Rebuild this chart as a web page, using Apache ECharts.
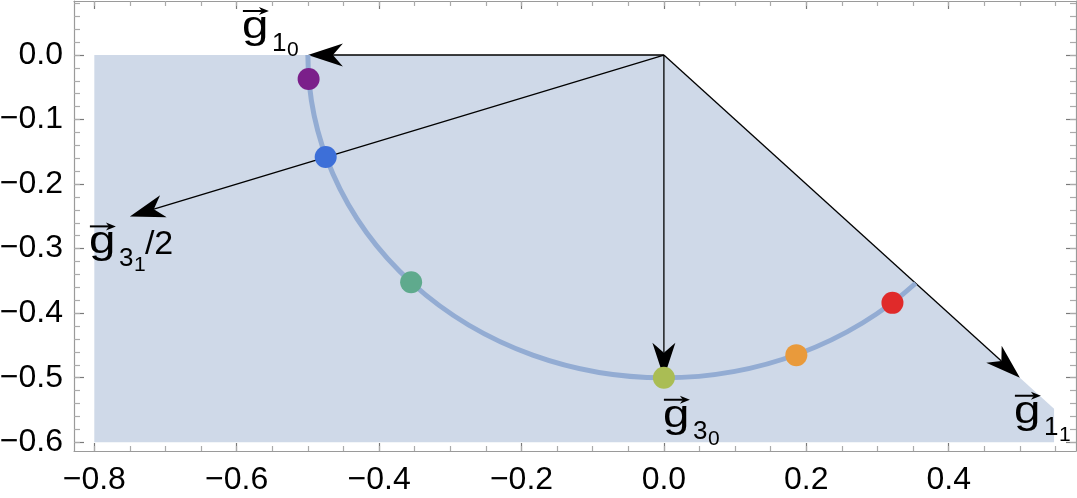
<!DOCTYPE html>
<html>
<head>
<meta charset="utf-8">
<title>g vectors</title>
<script src="https://cdn.jsdelivr.net/npm/echarts@6/dist/echarts.min.js"></script>
<style>
  html, body { margin: 0; padding: 0; background: #fff; }
  #chart { width: 1077px; height: 498px; }
</style>
</head>
<body>
<div id="chart"></div>
<script>
// axis ranges and tick labels
var xRange = [-0.8285, 0.5788];
var yRange = [-0.6135, 0.0837];
var xMajor = [-0.8, -0.6, -0.4, -0.2, 0.0, 0.2, 0.4];
var yMajor = [-0.6, -0.5, -0.4, -0.3, -0.2, -0.1, 0.0];
var xMinor = [-0.8, -0.75, -0.7, -0.65, -0.6, -0.55, -0.5, -0.45, -0.4, -0.35, -0.3, -0.25, -0.2, -0.15,
  -0.1, -0.05, 0, 0.05, 0.1, 0.15, 0.2, 0.25, 0.3, 0.35, 0.4, 0.45, 0.5, 0.55];
var yMinor = [-0.6, -0.58, -0.56, -0.54, -0.52, -0.5, -0.48, -0.46, -0.44, -0.42, -0.4, -0.38, -0.36, -0.34,
  -0.32, -0.3, -0.28, -0.26, -0.24, -0.22, -0.2, -0.18, -0.16, -0.14, -0.12, -0.1, -0.08, -0.06, -0.04,
  -0.02, 0, 0.02, 0.04, 0.06, 0.08];

// shaded region (corners)
var regionX = [-0.8, 0, 0.548, 0.548, -0.8];
var regionY = [0, 0, -0.548, -0.6, -0.6];

// circle arc, radius 0.5
var arcRadius = 0.5;
var arcStart = [-0.5, 0];
var arcEnd = [0.3536, -0.3536];

// points on the arc
var dotX = [-0.499, -0.475, -0.355, 0.0, 0.186, 0.321];
var dotY = [-0.037, -0.158, -0.352, -0.5, -0.465, -0.384];
var dotColors = ['#7b1f8a', '#3d6fd8', '#5faa8d', '#aabd54', '#e99a3b', '#e02a2a'];

// vectors drawn from the origin
var arrowEndX = [-0.5, -0.75, 0.0, 0.5];
var arrowEndY = [0.0, -0.25, -0.5, -0.5];
var labelSub = ['1', '3', '3', '1'];
var labelSubSub = ['0', '1', '0', '1'];
var labelTail = ['', '/2', '', ''];

// where each label's g sits relative to the arrow tip (px: left, baseline)
var labelOffset = [[-66, -15], [-41, 39], [-1, 51], [-6, 47]];

var FONT = '"Liberation Sans", Arial, sans-serif';
var frameColor = '#9a9a9a';

function fmt(v) {
  return (v < -1e-9 ? '\u2212' : '') + Math.abs(v).toFixed(1);
}

function xAx(pos, ticks, len, color, line, labels) {
  return {
    type: 'value', position: pos, min: xRange[0], max: xRange[1],
    axisLine: { show: line, onZero: false, lineStyle: { color: frameColor, width: 1.2 } },
    axisTick: { show: true, inside: true, length: len, customValues: ticks,
      lineStyle: { color: color, width: 1.2 } },
    axisLabel: labels ? { show: true, customValues: ticks, formatter: fmt, margin: 13,
      fontFamily: FONT, fontSize: 32, color: '#000' } : { show: false },
    splitLine: { show: false }
  };
}
function yAx(pos, ticks, len, color, line, labels) {
  return {
    type: 'value', position: pos, min: yRange[0], max: yRange[1],
    axisLine: { show: line, onZero: false, lineStyle: { color: frameColor, width: 1.2 } },
    axisTick: { show: true, inside: true, length: len, customValues: ticks,
      lineStyle: { color: color, width: 1.2 } },
    axisLabel: labels ? { show: true, customValues: ticks, formatter: fmt, margin: 11,
      fontFamily: FONT, fontSize: 32, color: '#000' } : { show: false },
    splitLine: { show: false }
  };
}

function arrowHead(tip, ux, uy, L, W, notch) {
  var nx = -uy, ny = ux;
  var bx = tip[0] - ux * L, by = tip[1] - uy * L;
  var tail = [tip[0] - ux * notch, tip[1] - uy * notch];
  return {
    tail: tail,
    points: [tip, [bx + nx * W, by + ny * W], tail, [bx - nx * W, by - ny * W]]
  };
}

function textAt(str, x, baseline, size, sx) {
  return {
    type: 'text', x: x, y: baseline - 0.33 * size, scaleX: sx || 1,
    style: { text: str, font: size + 'px ' + FONT, fill: '#000', align: 'left', verticalAlign: 'middle' }
  };
}

var chart = echarts.init(document.getElementById('chart'));

var option = {
  animation: false,
  grid: { left: 74, right: 1, top: 1, bottom: 47, outerBoundsMode: 'none' },
  xAxis: [
    xAx('bottom', xMajor, 8, '#7a7a7a', true, true),
    xAx('bottom', xMinor, 5, '#ababab', false, false),
    xAx('top', xMajor, 8, '#7a7a7a', true, false),
    xAx('top', xMinor, 5, '#ababab', false, false)
  ],
  yAxis: [
    yAx('left', yMajor, 10, '#7a7a7a', true, true),
    yAx('left', yMinor, 6, '#ababab', false, false),
    yAx('right', yMajor, 10, '#7a7a7a', true, false),
    yAx('right', yMinor, 6, '#ababab', false, false)
  ],
  series: [
    {
      // shaded region
      type: 'custom', silent: true, z: 1,
      data: [[regionX[0], regionY[0]]],
      renderItem: function (params, api) {
        var pts = regionX.map(function (x, i) { return api.coord([x, regionY[i]]); });
        return { type: 'polygon', shape: { points: pts }, style: { fill: '#cfd9e8' } };
      }
    },
    {
      // vectors
      type: 'custom', silent: true, z: 2,
      encode: { x: [0, 2], y: [1, 3] },
      data: arrowEndX.map(function (x, i) { return [0, 0, x, arrowEndY[i]]; }),
      renderItem: function (params, api) {
        var p0 = api.coord([api.value(0), api.value(1)]);
        var p1 = api.coord([api.value(2), api.value(3)]);
        var dx = p1[0] - p0[0], dy = p1[1] - p0[1];
        var len = Math.sqrt(dx * dx + dy * dy);
        var h = arrowHead(p1, dx / len, dy / len, 35, 11.5, 25);
        return {
          type: 'group', children: [
            { type: 'line', shape: { x1: p0[0], y1: p0[1], x2: h.tail[0], y2: h.tail[1] },
              style: { stroke: '#000', lineWidth: 1.3 } },
            { type: 'polygon', shape: { points: h.points }, style: { fill: '#000' } }
          ]
        };
      }
    },
    {
      // arc
      type: 'custom', silent: true, z: 3,
      data: [[arcStart[0], arcStart[1]]],
      renderItem: function (params, api) {
        var s = api.coord(arcStart), e = api.coord(arcEnd);
        var r = api.size([arcRadius, arcRadius]);
        var d = 'M' + s[0] + ' ' + s[1] + ' A' + r[0] + ' ' + r[1] + ' 0 0 0 ' + e[0] + ' ' + e[1];
        return { type: 'path', shape: { pathData: d },
          style: { fill: null, stroke: '#93acd3', lineWidth: 5 } };
      }
    },
    {
      type: 'scatter', z: 4, silent: true, symbolSize: 22,
      data: dotX.map(function (x, i) {
        return { value: [x, dotY[i]], itemStyle: { color: dotColors[i], opacity: 1 } };
      })
    },
    {
      // labels at the vector tips
      type: 'custom', silent: true, z: 5,
      data: arrowEndX.map(function (x, i) { return [x, arrowEndY[i]]; }),
      renderItem: function (params, api) {
        var i = params.dataIndex;
        var p = api.coord([api.value(0), api.value(1)]);
        var gx = p[0] + labelOffset[i][0], gb = p[1] + labelOffset[i][1];
        var ay = gb - 29;
        var h = arrowHead([gx + 27, ay], 1, 0, 10, 4, 7);
        var kids = [
          textAt('g', gx, gb, 38, 1.25),
          { type: 'line', shape: { x1: gx + 1, y1: ay, x2: h.tail[0], y2: ay },
            style: { stroke: '#000', lineWidth: 2 } },
          { type: 'polygon', shape: { points: h.points }, style: { fill: '#000' } },
          textAt(labelSub[i], gx + 30, gb + 12, 26),
          textAt(labelSubSub[i], gx + 45, gb + 17, 21)
        ];
        if (labelTail[i]) kids.push(textAt(labelTail[i], gx + 56, gb, 34));
        return { type: 'group', children: kids };
      }
    }
  ]
};

chart.setOption(option);
</script>
</body>
</html>
